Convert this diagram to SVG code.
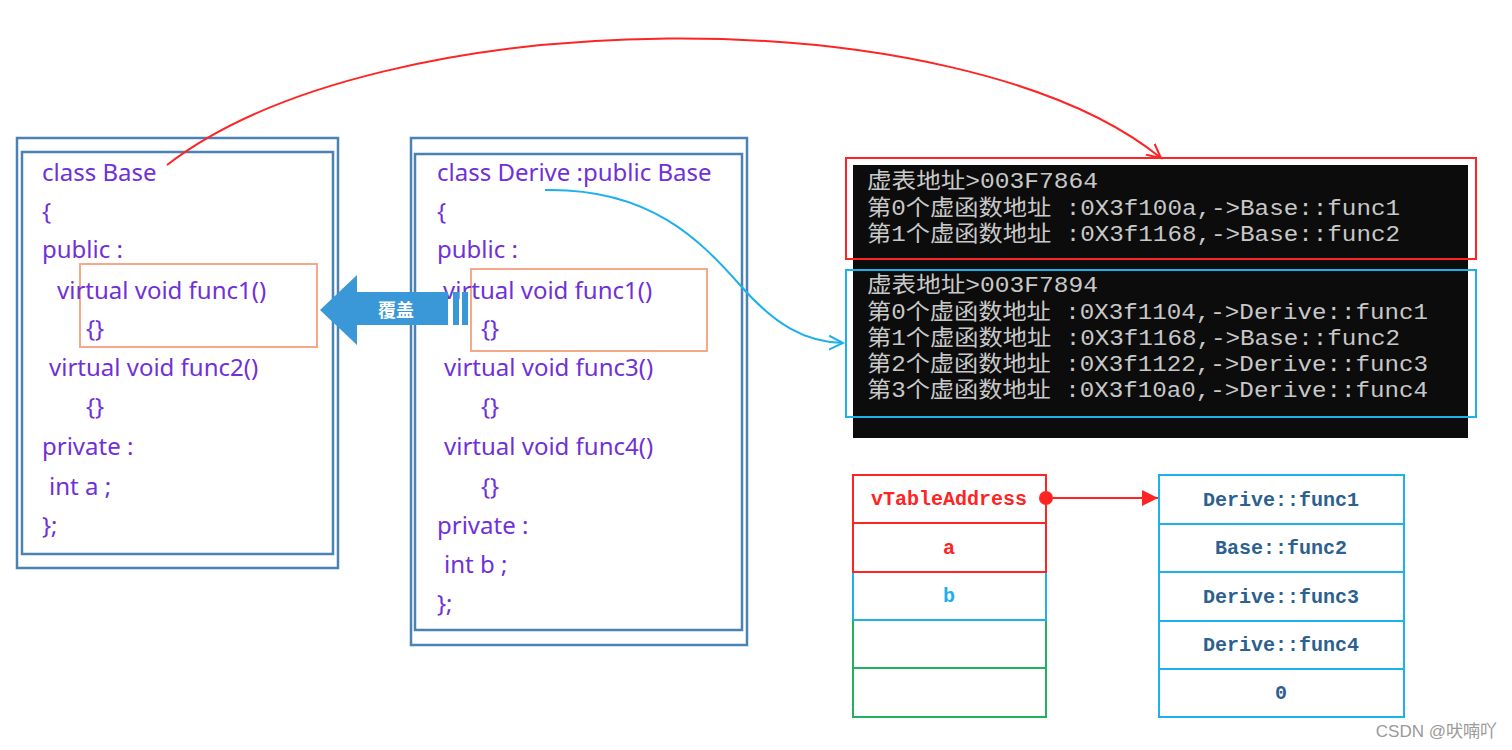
<svg xmlns="http://www.w3.org/2000/svg" width="1512" height="750" viewBox="0 0 1512 750">
<defs>
<style>
.frame{fill:none;stroke:#4a82b4;stroke-width:2.5}
.code{font-family:"Noto Sans","Open Sans",sans-serif;font-size:24px;fill:#7030d8}
.hl{fill:none;stroke:#f6a88a;stroke-width:2}
.con{font-family:"Liberation Mono","Noto Sans CJK SC",monospace;font-size:22px;fill:#c8c8c8}
.cell{font-family:"Liberation Mono","Noto Sans CJK SC",monospace;font-size:20px;font-weight:bold;text-anchor:middle}
.red{fill:none;stroke:#ff2424;stroke-width:2}
.blu{fill:none;stroke:#1eb0ea;stroke-width:2}
.grn{fill:none;stroke:#22b05c;stroke-width:2}
.cap{font-family:"Noto Sans CJK SC",sans-serif;font-size:18px;font-weight:bold;fill:#ffffff}
.wm{font-family:"Liberation Sans","Noto Sans CJK SC",sans-serif;font-size:17px;fill:#9a9a9a}
</style>
<marker id="openRed" markerWidth="20" markerHeight="20" refX="14" refY="7" orient="auto" markerUnits="userSpaceOnUse" viewBox="0 0 20 14">
<path d="M0,0 L14,7 L0,14" fill="none" stroke="#ff2424" stroke-width="2"/>
</marker>
<marker id="openBlue" markerWidth="20" markerHeight="20" refX="14" refY="7" orient="auto" markerUnits="userSpaceOnUse" viewBox="0 0 20 14">
<path d="M0,0 L14,7 L0,14" fill="none" stroke="#1eb0ea" stroke-width="2"/>
</marker>
<marker id="fillRed" markerWidth="16" markerHeight="16" refX="16" refY="8" orient="auto" markerUnits="userSpaceOnUse" viewBox="0 0 16 16">
<path d="M0,0 L16,8 L0,16 Z" fill="#ff2424"/>
</marker>
</defs>
<rect width="1512" height="750" fill="#ffffff"/>

<g id="base-class">
<rect class="frame" x="17" y="138" width="321" height="430"/>
<rect class="frame" x="22" y="152" width="311" height="402"/>
<rect class="hl" x="80" y="264" width="237" height="83"/>
<text class="code" x="42" y="181">class Base</text>
<text class="code" x="42" y="220">{</text>
<text class="code" x="42" y="258">public :</text>
<text class="code" x="57" y="299">virtual void func1()</text>
<text class="code" x="86" y="337">{}</text>
<text class="code" x="49" y="376">virtual void func2()</text>
<text class="code" x="86" y="415">{}</text>
<text class="code" x="42" y="455">private :</text>
<text class="code" x="49" y="495">int a ;</text>
<text class="code" x="42" y="534">};</text>
</g>

<g id="derive-class">
<rect class="frame" x="411" y="138" width="336" height="507"/>
<rect class="frame" x="415" y="154" width="327" height="476"/>
<rect class="hl" x="471" y="269" width="236" height="82"/>
<text class="code" x="437" y="181">class Derive :public Base</text>
<text class="code" x="437" y="220">{</text>
<text class="code" x="437" y="258">public :</text>
<text class="code" x="443" y="299">virtual void func1()</text>
<text class="code" x="481" y="337">{}</text>
<text class="code" x="444" y="376">virtual void func3()</text>
<text class="code" x="481" y="415">{}</text>
<text class="code" x="444" y="455">virtual void func4()</text>
<text class="code" x="481" y="495">{}</text>
<text class="code" x="437" y="534">private :</text>
<text class="code" x="444" y="573">int b ;</text>
<text class="code" x="437" y="612">};</text>
</g>

<g id="override-arrow">
<polygon points="320,310 357,275 357,292 448,292 448,325 357,325 357,345" fill="#3a97d8"/>
<rect x="453" y="292" width="6" height="33" fill="#3a97d8"/>
<rect x="462" y="292" width="6" height="33" fill="#3a97d8"/>
<text class="cap" x="396" y="317" text-anchor="middle">覆盖</text>
</g>

<g id="console">
<rect x="853" y="165" width="615" height="273" fill="#0c0c0c"/>
<text class="con" x="867" y="188" textLength="231" lengthAdjust="spacingAndGlyphs">虚表地址&gt;003F7864</text>
<text class="con" x="867" y="215" textLength="533" lengthAdjust="spacingAndGlyphs">第0个虚函数地址 :0X3f100a,-&gt;Base::func1</text>
<text class="con" x="867" y="241" textLength="533" lengthAdjust="spacingAndGlyphs">第1个虚函数地址 :0X3f1168,-&gt;Base::func2</text>
<text class="con" x="867" y="292" textLength="231" lengthAdjust="spacingAndGlyphs">虚表地址&gt;003F7894</text>
<text class="con" x="867" y="319" textLength="561" lengthAdjust="spacingAndGlyphs">第0个虚函数地址 :0X3f1104,-&gt;Derive::func1</text>
<text class="con" x="867" y="345" textLength="533" lengthAdjust="spacingAndGlyphs">第1个虚函数地址 :0X3f1168,-&gt;Base::func2</text>
<text class="con" x="867" y="371" textLength="561" lengthAdjust="spacingAndGlyphs">第2个虚函数地址 :0X3f1122,-&gt;Derive::func3</text>
<text class="con" x="867" y="397" textLength="561" lengthAdjust="spacingAndGlyphs">第3个虚函数地址 :0X3f10a0,-&gt;Derive::func4</text>
<rect class="red" x="846" y="158" width="630" height="101"/>
<rect class="blu" x="846" y="270" width="630" height="147"/>
</g>

<g id="object-layout">
<rect class="grn" x="853" y="620" width="193" height="48"/>
<rect class="grn" x="853" y="668" width="193" height="49"/>
<rect class="blu" x="853" y="572" width="193" height="48"/>
<rect class="red" x="853" y="475" width="193" height="48"/>
<rect class="red" x="853" y="523" width="193" height="49"/>
<text class="cell" x="949" y="505" fill="#ff2424">vTableAddress</text>
<text class="cell" x="949" y="554" fill="#ff2424">a</text>
<text class="cell" x="949" y="602" fill="#1eb0ea">b</text>
</g>

<g id="vtable">
<rect class="blu" x="1159" y="475" width="245" height="49"/>
<rect class="blu" x="1159" y="524" width="245" height="48"/>
<rect class="blu" x="1159" y="572" width="245" height="49"/>
<rect class="blu" x="1159" y="621" width="245" height="48"/>
<rect class="blu" x="1159" y="669" width="245" height="48"/>
<text class="cell" x="1281" y="506" fill="#2c6090">Derive::func1</text>
<text class="cell" x="1281" y="554" fill="#2c6090">Base::func2</text>
<text class="cell" x="1281" y="603" fill="#2c6090">Derive::func3</text>
<text class="cell" x="1281" y="651" fill="#2c6090">Derive::func4</text>
<text class="cell" x="1281" y="699" fill="#2c6090">0</text>
</g>

<g id="connectors">
<path class="red" d="M167,165 C380,0 960,-5 1161,158" marker-end="url(#openRed)"/>
<path class="blu" d="M545,190 C650,188 700,240 740,285 C775,325 805,342 843,343" marker-end="url(#openBlue)"/>
<circle cx="1046" cy="498" r="7" fill="#ff2424"/>
<line class="red" x1="1046" y1="498" x2="1158" y2="498" marker-end="url(#fillRed)"/>
</g>

<text class="wm" x="1497" y="737" text-anchor="end">CSDN @吠喃吖</text>
</svg>
